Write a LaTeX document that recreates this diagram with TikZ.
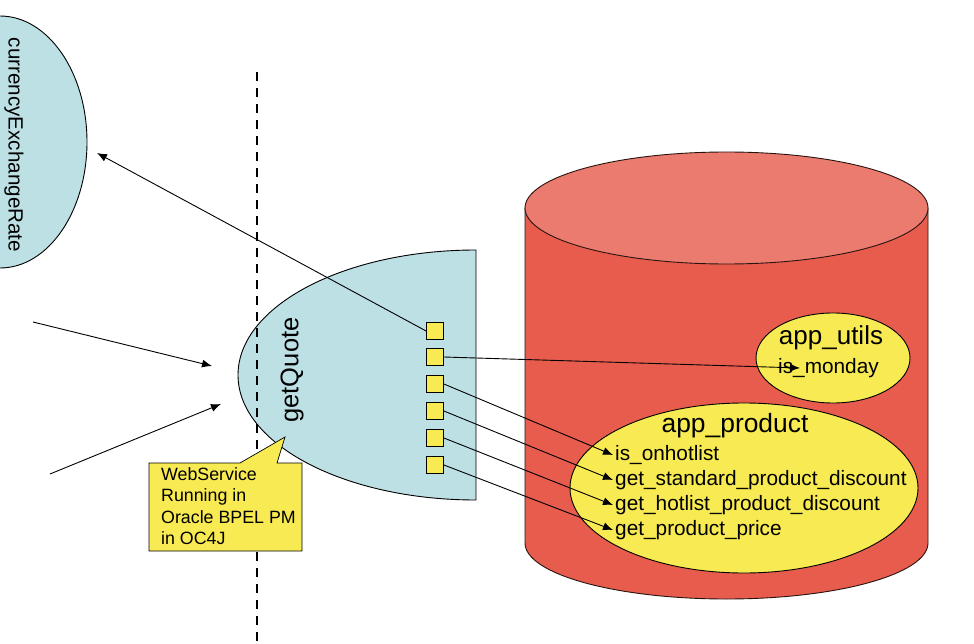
\documentclass[tikz,border=0pt]{standalone}
\usepackage{fontspec}
\setmainfont{Liberation Sans}
\usetikzlibrary{arrows.meta,shapes.geometric}
\definecolor{lblue}{RGB}{189,224,228}
\definecolor{yel}{RGB}{248,234,82}
\definecolor{cyltop}{RGB}{236,123,111}
\definecolor{cylbody}{RGB}{231,92,77}
\definecolor{edge}{RGB}{40,20,15}
\tikzset{
  conn/.style={draw=black, line width=0.9pt, -{Latex[length=10pt,width=8pt]}},
  opbox/.style={draw=black, fill=yel, line width=0.8pt, minimum size=17pt, inner sep=0pt},
  optext/.style={anchor=west, inner sep=2pt, font=\fontsize{20.8}{24}\selectfont},
  pkg/.style={ellipse, draw=black, fill=yel, line width=0.9pt, inner sep=0pt},
}
\begin{document}
\begin{tikzpicture}[x=1pt,y=-1pt]
\useasboundingbox (0,0) rectangle (974,644);
% currencyExchangeRate half ellipse
\fill[lblue] (0,16) arc[start angle=-90, end angle=90, x radius=87, y radius=126] -- cycle;
\draw[line width=0.9pt] (0,16) arc[start angle=-90, end angle=90, x radius=87, y radius=126];
\node[rotate=-90, font=\fontsize{20.6}{24}\selectfont] (certext) at (14,145) {currencyExchangeRate};
\coordinate (certip) at (97,153);
% getQuote half ellipse
\draw[fill=lblue, line width=0.9pt] (476,250) arc[start angle=270, end angle=90, x radius=238, y radius=125] -- cycle;
\node[rotate=90, font=\fontsize{25.5}{28}\selectfont] (gqtext) at (292,370) {getQuote};
% dashed boundary
\coordinate (dtop) at (257,72);
\coordinate (dbot) at (257,644);
\draw[line width=2pt, dash pattern=on 9pt off 7pt] (dtop) -- (dbot);
% callout
\draw[fill=yel, line width=0.7pt] (149,463) -- (240,463) -- (285,437) -- (277,463) -- (302,463) -- (302,551) -- (149,551) -- cycle;
\node[anchor=west, align=left, inner sep=0pt, font=\fontsize{17.8}{21.5}\selectfont] (callout) at (161,506) {WebService\\Running in\\Oracle BPEL PM\\in OC4J};
% cylinder
\draw[fill=cylbody, draw=edge, line width=0.9pt] (525,208) -- (525,543) arc[start angle=180, end angle=0, x radius=201.5, y radius=56] -- (928,208) -- cycle;
\draw[fill=cyltop, draw=edge, line width=0.9pt] (726.5,208) ellipse[x radius=201.5, y radius=56];
% packages
\node[pkg, minimum width=154pt, minimum height=90pt] (utils) at (833,358) {};
\node[font=\fontsize{26}{30}\selectfont, inner sep=0pt] (utilsname) at (831,338) {app\_utils};
\node[optext] (monday) at (776,368) {is\_monday};
\node[pkg, minimum width=348pt, minimum height=170pt] (product) at (744,488) {};
\node[font=\fontsize{26.4}{30}\selectfont, inner sep=0pt] (productname) at (735,426) {app\_product};
\node[optext] (hot) at (613,455) {is\_onhotlist};
\node[optext] (std) at (613,480) {get\_standard\_product\_discount};
\node[optext] (hotd) at (613,505) {get\_hotlist\_product\_discount};
\node[optext] (price) at (613,530) {get\_product\_price};
% operation squares
\node[opbox] (s1) at (435,331) {};
\node[opbox] (s2) at (435,357) {};
\node[opbox] (s3) at (435,384) {};
\node[opbox] (s4) at (435,411) {};
\node[opbox] (s5) at (435,438) {};
\node[opbox] (s6) at (435,465) {};
% connectors
\draw[conn] (s1.west) -- (certip);
\draw[conn] (s2.east) -- ([xshift=24pt]monday.west);
\draw[conn] (s3.east) -- (hot.west);
\draw[conn] (s4.east) -- (std.west);
\draw[conn] (s5.east) -- (hotd.west);
\draw[conn] (s6.east) -- (price.west);
% incoming
\coordinate (in1) at (33,322);
\coordinate (in1tip) at (212,366);
\coordinate (in2) at (50,474);
\coordinate (in2tip) at (221,404);
\draw[conn] (in1) -- (in1tip);
\draw[conn] (in2) -- (in2tip);
\end{tikzpicture}
\end{document}
